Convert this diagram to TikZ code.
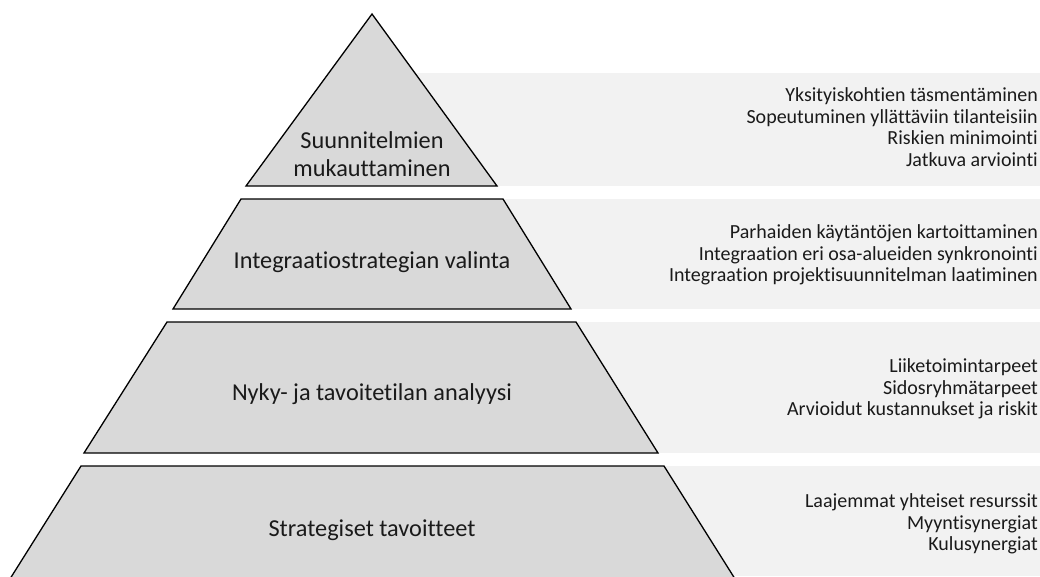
\documentclass[tikz,border=0pt]{standalone}
\usepackage{fontspec}
\setmainfont{Carlito}[Ligatures=NoCommon]
\definecolor{shapefill}{HTML}{D9D9D9}
\definecolor{bandfill}{HTML}{F2F2F2}
\definecolor{txt}{HTML}{1A1A1A}
\begin{document}
\begin{tikzpicture}[x=1pt,y=-1pt,
 level/.style={fill=shapefill,draw=black,line width=1.3pt,line join=miter},
 band/.style={fill=bandfill,draw=none},
 mainlabel/.style={font=\fontsize{24.3}{28}\selectfont,text=txt,align=center,inner sep=0},
 sidelabel/.style={font=\fontsize{20}{21.5}\selectfont,text=txt,align=right,anchor=east,inner sep=0}]
\useasboundingbox (0,0) rectangle (1040,576);
\clip (0,0) rectangle (1040,576);
\fill[band] (372,73) rectangle (1040,186);
\fill[band] (372,199) rectangle (1040,309);
\fill[band] (372,322) rectangle (1040,453);
\fill[band] (372,466) rectangle (1040,576);
\draw[level] (372,14) -- (497,186) -- (246,186) -- cycle;
\draw[level] (241,199) -- (503,199) -- (571,309) -- (173,309) -- cycle;
\draw[level] (167,322) -- (576,322) -- (658,453) -- (84,453) -- cycle;
\draw[level] (81,466) -- (664,466) -- (742,590) -- (3,590) -- cycle;
\node[mainlabel] (l1) at (372,154) {Suunnitelmien\\mukauttaminen};
\node[mainlabel] (l2) at (372,262) {Integraatiostrategian valinta};
\node[mainlabel] (l3) at (372,394) {Nyky- ja tavoitetilan analyysi};
\node[mainlabel] (l4) at (372,530) {Strategiset tavoitteet};
\node[sidelabel] (s1) at (1038,127) {Yksityiskohtien täsmentäminen\\Sopeutuminen yllättäviin tilanteisiin\\Riskien minimointi\\Jatkuva arviointi};
\node[sidelabel] (s2) at (1038,255) {Parhaiden käytäntöjen kartoittaminen\\Integraation eri osa-alueiden synkronointi\\Integraation projektisuunnitelman laatiminen};
\node[sidelabel] (s3) at (1038,389) {Liiketoimintarpeet\\Sidosryhmätarpeet\\Arvioidut kustannukset ja riskit};
\node[sidelabel] (s4) at (1038,524) {Laajemmat yhteiset resurssit\\Myyntisynergiat\\Kulusynergiat};
\end{tikzpicture}
\end{document}
